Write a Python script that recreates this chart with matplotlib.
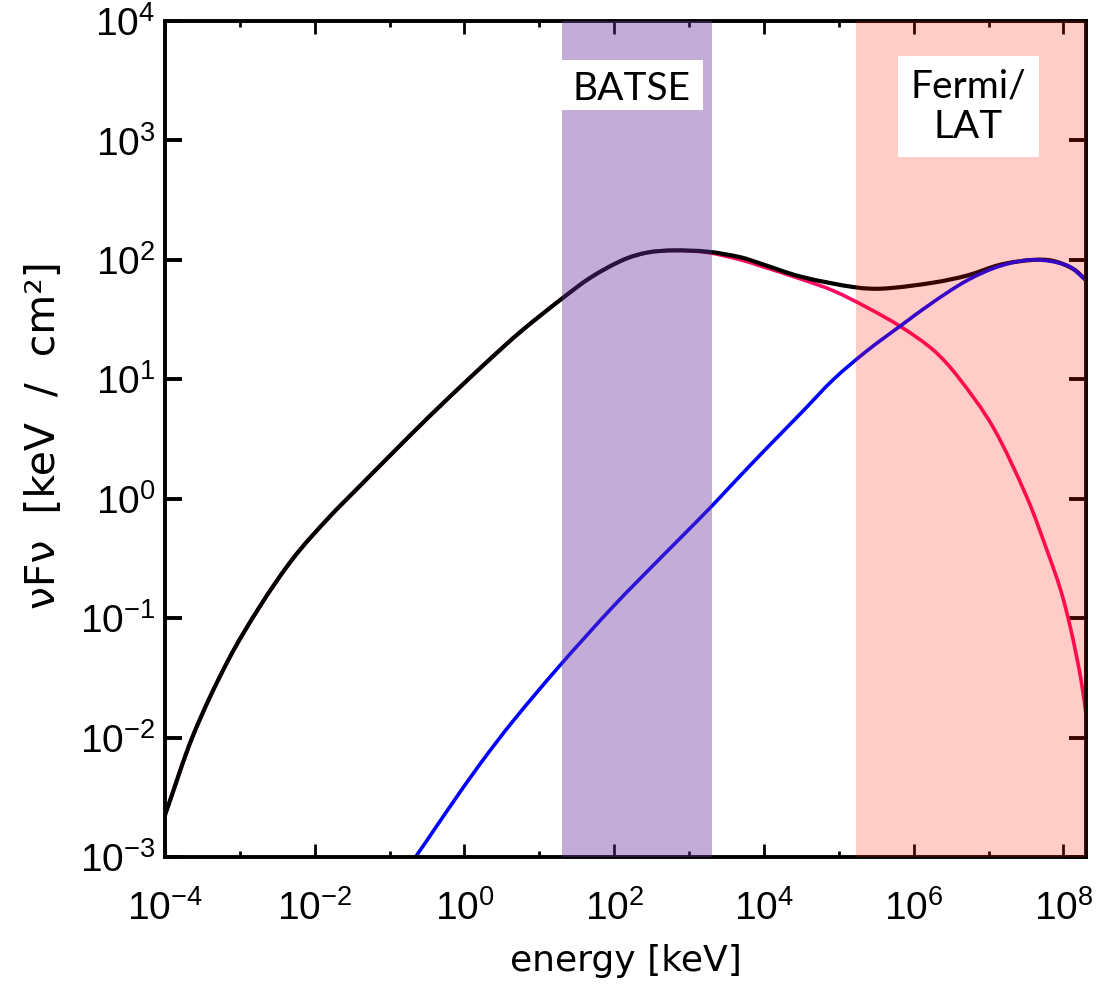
import numpy as np
import matplotlib
matplotlib.use("Agg")
import matplotlib.pyplot as plt
from matplotlib.ticker import FixedLocator, FuncFormatter, NullFormatter
from matplotlib.patches import Rectangle, PathPatch
from matplotlib.path import Path

plt.rcParams['mathtext.fontset'] = 'custom'
plt.rcParams['mathtext.rm'] = 'Liberation Sans'
plt.rcParams['mathtext.it'] = 'Liberation Sans:italic'
plt.rcParams['mathtext.bf'] = 'Liberation Sans:bold'
plt.rcParams['mathtext.default'] = 'rm'

# ---------------- data ----------------
# total spectrum (black)
total_energy = [1e-4, 2.34e-4, 6.76e-4, 1.86e-3, 5.13e-3, 1.48e-2, 4.07e-2, 0.112, 0.316,
                1.0, 3.16, 6.17, 18.6, 47.9, 132, 275, 617, 1780, 4900, 8910,
                3.09e4, 1.66e5, 3.98e5, 1.86e6, 5.25e6, 1.45e7, 3.98e7, 7.41e7, 1.38e8, 2.0e8]
total_flux = [2.24e-3, 1.02e-2, 4.27e-2, 0.126, 0.316, 0.676, 1.29, 2.45, 4.68,
              9.33, 18.2, 26.3, 45.7, 70.8, 100, 115, 120, 117, 105, 93.3,
              72.4, 58.9, 57.5, 64.6, 74.1, 91.2, 100, 97.7, 83.2, 67.6]

# Band-like component (pink)
band_energy = [1e-4, 2.34e-4, 6.76e-4, 1.86e-3, 5.13e-3, 1.48e-2, 4.07e-2, 0.112, 0.316,
               1.0, 3.16, 6.17, 18.6, 47.9, 132, 275, 617, 1780, 4900, 8910,
               3.09e4, 8.51e4, 2.40e5, 6.76e5, 1.86e6, 3.89e6, 1.17e7, 3.31e7,
               6.17e7, 9.33e7, 1.26e8, 1.70e8, 2.0e8]
band_flux = [2.24e-3, 1.02e-2, 4.27e-2, 0.126, 0.316, 0.676, 1.29, 2.45, 4.68,
             9.33, 18.2, 26.3, 45.7, 70.8, 100, 115, 120, 115, 100, 89.1,
             69.2, 55.0, 39.8, 27.5, 17.4, 10.5, 3.89, 1.0,
             0.355, 0.166, 7.94e-2, 3.16e-2, 1.58e-2]

# inverse-Compton component (blue)
ic_energy = [0.200, 0.316, 0.589, 1.62, 4.47, 18.6, 97.7, 457, 1820, 3890,
             1.0e4, 3.16e4, 8.51e4, 2.40e5, 6.76e5, 1.86e6, 5.25e6, 1.45e7,
             3.98e7, 1.15e8, 2.0e8]
ic_flux = [9.12e-4, 1.38e-3, 2.45e-3, 6.03e-3, 1.38e-2, 3.98e-2, 0.126, 0.339, 0.813, 1.35,
           2.51, 5.25, 10.0, 17.4, 28.2, 44.7, 67.6, 89.1,
           100, 89.1, 67.6]

batse_range = (20, 2000)          # keV
lat_range = (1.7e5, 3.0e8)        # keV

x_major = [1e-4, 1e-2, 1e0, 1e2, 1e4, 1e6, 1e8]
x_minor = [1e-3, 1e-1, 1e1, 1e3, 1e5, 1e7]
y_major = [1e-3, 1e-2, 1e-1, 1e0, 1e1, 1e2, 1e3, 1e4]


def smooth_path(xs, ys):
    """Cubic Hermite curve through the points, built in log-log space."""
    lx = np.log10(np.asarray(xs, float))
    ly = np.log10(np.asarray(ys, float))
    n = len(lx)
    m = np.empty(n)
    m[0] = (ly[1] - ly[0]) / (lx[1] - lx[0])
    m[-1] = (ly[-1] - ly[-2]) / (lx[-1] - lx[-2])
    for i in range(1, n - 1):
        m[i] = (ly[i + 1] - ly[i - 1]) / (lx[i + 1] - lx[i - 1])
    verts = [(lx[0], ly[0])]
    codes = [Path.MOVETO]
    for i in range(n - 1):
        h = lx[i + 1] - lx[i]
        verts.append((lx[i] + h / 3, ly[i] + m[i] * h / 3))
        verts.append((lx[i + 1] - h / 3, ly[i + 1] - m[i + 1] * h / 3))
        verts.append((lx[i + 1], ly[i + 1]))
        codes += [Path.CURVE4] * 3
    verts = 10.0 ** np.array(verts)
    return Path(verts, codes)


# ---------------- figure ----------------
fig = plt.figure(figsize=(11.05, 9.99), dpi=100)
ax = fig.add_axes([0.1493, 0.1421, 0.8335, 0.8369])
ax.set_xscale('log')
ax.set_yscale('log')
ax.set_xlim(1e-4, 2.0e8)
ax.set_ylim(1e-3, 1e4)

ax.add_patch(PathPatch(smooth_path(band_energy, band_flux), fill=False,
                       edgecolor='#ff0a64', lw=2.6, zorder=2.0))
ax.add_patch(PathPatch(smooth_path(total_energy, total_flux), fill=False,
                       edgecolor='black', lw=3.0, zorder=2.1))
ax.add_patch(PathPatch(smooth_path(ic_energy, ic_flux), fill=False,
                       edgecolor='#0000ff', lw=2.6, zorder=2.2))

# instrument bands, drawn translucent on top
ax.axvspan(*batse_range, color=(105/255, 52/255, 157/255), alpha=0.4, lw=0, zorder=3)
ax.axvspan(*lat_range, color=(1.0, 23/255, 0.0), alpha=0.22, lw=0, zorder=3)

# labels in white boxes
ax.add_patch(Rectangle((0.431, 0.8935), 0.153, 0.0595, transform=ax.transAxes,
                       facecolor='white', edgecolor='none', zorder=4))
ax.text(0.507, 0.9055, 'BATSE', transform=ax.transAxes, ha='center', va='baseline',
        fontsize=28, family='Lato', zorder=5)
ax.add_patch(Rectangle((0.796, 0.837), 0.153, 0.121, transform=ax.transAxes,
                       facecolor='white', edgecolor='none', zorder=4))
ax.text(0.872, 0.8975, 'Fermi/\nLAT', transform=ax.transAxes, ha='center', va='center',
        fontsize=28, family='Lato', linespacing=1.15, zorder=5)

# axes styling
for s in ax.spines.values():
    s.set_linewidth(2.8)


def fmt(v, pos):
    e = int(round(np.log10(v)))
    return r'$10^{%d}$' % e


ax.xaxis.set_major_locator(FixedLocator(x_major))
ax.xaxis.set_minor_locator(FixedLocator(x_minor))
ax.xaxis.set_major_formatter(FuncFormatter(fmt))
ax.xaxis.set_minor_formatter(NullFormatter())
ax.yaxis.set_major_locator(FixedLocator(y_major))
ax.yaxis.set_minor_locator(FixedLocator([]))
ax.yaxis.set_major_formatter(FuncFormatter(fmt))

ax.tick_params(which='both', direction='in', top=True, right=True, colors='black')
ax.tick_params(axis='x', which='major', length=9.5, width=2.0, labelsize=28, pad=24)
ax.tick_params(axis='x', which='minor', length=4.5, width=2.0)
ax.tick_params(axis='y', which='major', length=12, width=2.8, labelsize=28, pad=7)

ax.set_xlabel('energy [keV]', fontsize=26, family='DejaVu Sans')
ax.xaxis.set_label_coords(0.5, -0.104)
ax.set_ylabel('νFν  [keV  /  cm²]', fontsize=29.5, family='DejaVu Sans')
ax.yaxis.set_label_coords(-0.110, 0.505)

fig.savefig('out.png', dpi=100)
